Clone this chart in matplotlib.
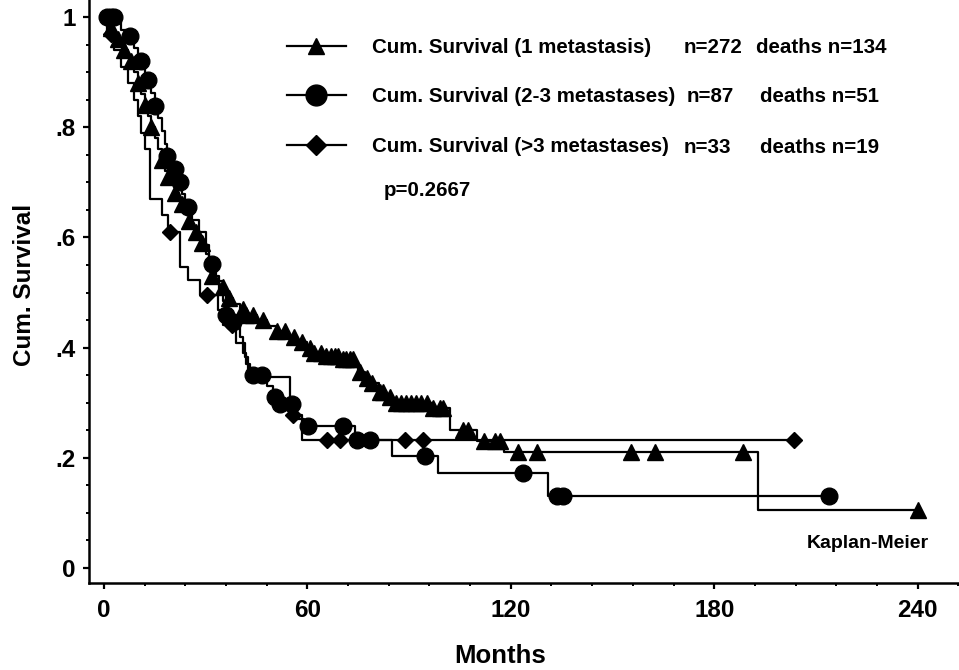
import matplotlib
matplotlib.use('Agg')
import matplotlib.pyplot as plt
from matplotlib.lines import Line2D
import numpy as np

plt.rcParams['font.family'] = ['Liberation Sans', 'DejaVu Sans']
plt.rcParams['font.weight'] = 'bold'

# --- data (months, cumulative survival) ---
# group 1: 1 metastasis (triangles)
g1_t = [0, 1, 2, 3, 4, 5, 6, 7, 8, 9, 10, 11, 12, 13, 14, 15, 16, 17, 18, 19, 20,
        21, 22, 23, 24, 25, 26, 27, 28, 29, 30, 31, 32, 33, 35, 36, 38, 40, 42, 45,
        48, 51, 54, 57, 60, 62, 65, 70, 74, 75, 77, 79, 81, 83, 85, 97, 102, 110,
        118, 193]
g1_s = [1.0, .99, .98, .97, .96, .95, .94, .93, .92, .90, .88, .86, .84, .82, .80,
        .78, .76, .74, .72, .71, .70, .68, .67, .66, .65, .63, .62, .61, .60, .59,
        .57, .55, .53, .52, .51, .49, .48, .47, .46, .45, .44, .43, .42, .41, .40,
        .39, .385, .38, .37, .355, .345, .335, .32, .31, .30, .29, .25, .23, .21,
        .105]
g1_cens = [2, 4, 6, 8, 10, 12, 14, 17, 19, 21, 23, 25, 27, 29, 32, 35, 37, 41, 42,
           44, 47, 51, 53.4, 56, 58.4, 60.8, 62, 64, 65.5, 67, 68, 69, 70.5, 71.5,
           72.6, 73.5, 75.5, 77.6, 79, 81.4, 82.3, 84.4, 86, 87.5, 89, 90.5, 92,
           93.5, 95.3, 97, 99, 100, 106, 107.4, 112, 115.3, 116.8, 122, 127.7,
           155.5, 162.5, 188.5, 240]

# group 2: 2-3 metastases (circles)
g2_t = [0, 5, 7, 9, 10, 11, 12, 13, 14, 15, 16, 17, 18, 18.5, 20, 21, 22, 23, 24,
        26, 28, 30, 31, 32, 33, 34, 35, 36, 37.5, 40, 41, 42, 43, 48, 50, 51.5,
        55.6, 57, 59, 74, 85, 98.5, 131]
g2_s = [1.0, .977, .966, .943, .931, .92, .897, .885, .862, .839, .816, .793, .77,
        .747, .735, .724, .70, .678, .655, .632, .61, .587, .563, .552, .53, .507,
        .484, .46, .447, .42, .39, .37, .35, .33, .31, .298, .285, .27, .258, .233,
        .203, .173, .13]
g2_cens = [1, 2, 3, 7.7, 11, 13, 15, 18.6, 21, 22.4, 24.8, 32, 36, 38, 44, 46.6,
           50.4, 52, 55.5, 60.2, 70.5, 74.6, 78.5, 94.7, 123.6, 133.6, 135.4, 214]

# group 3: >3 metastases (diamonds)
g3_t = [0, 1, 3, 5, 7, 9, 10, 11, 12, 13.6, 17, 19, 22.4, 24.8, 28.3, 33.6, 35, 39,
        41.6, 42.5, 55, 58.5]
g3_s = [1.0, .97, .94, .91, .88, .85, .82, .79, .76, .67, .64, .61, .546, .523,
        .495, .468, .441, .408, .383, .347, .278, .232]
g3_cens = [2, 19.5, 30.4, 37.8, 55.8, 65.8, 69.6, 88.8, 94, 203.5]

labels = ['Cum. Survival (1 metastasis)',
          'Cum. Survival (2-3 metastases)',
          'Cum. Survival (>3 metastases)']
n_text = ['n=272', 'n=87', 'n=33']
deaths_text = ['deaths n=134', 'deaths n=51', 'deaths n=19']
p_text = 'p=0.2667'

# marker, size on the curve, size in the legend
groups = [(g1_t, g1_s, g1_cens, '^', 11, 12),
          (g2_t, g2_s, g2_cens, 'o', 12, 15),
          (g3_t, g3_s, g3_cens, 'D', 8.5, 10)]

fig = plt.figure(figsize=(9.59, 6.70), dpi=100)
ax = fig.add_axes([89 / 959, 87 / 670, 870 / 959, 583 / 670])

for t, s, cens, mk, ms, _ in groups:
    t = np.array(t, dtype=float)
    s = np.array(s, dtype=float)
    cens = np.array(cens, dtype=float)
    # extend the last step to the last follow-up time
    tt = np.append(t, cens.max())
    ss = np.append(s, s[-1])
    ax.step(tt, ss, where='post', color='black', linewidth=1.6, zorder=2)
    idx = np.searchsorted(t, cens, side='right') - 1
    ax.plot(cens, s[idx], linestyle='none', marker=mk, markersize=ms,
            color='black', zorder=3)

fs = 14.8
# legend
handles = [Line2D([], [], color='black', linewidth=1.6, marker=g[3], markersize=g[5])
           for g in groups]
leg = ax.legend(handles, labels, loc='upper left', bbox_to_anchor=(287 / 959, 1 - 38 / 670),
                bbox_transform=fig.transFigure, frameon=False, fontsize=fs,
                handlelength=2.85, handletextpad=1.3, labelspacing=1.48,
                borderpad=0, borderaxespad=0)
for txt in leg.get_texts():
    txt.set_fontweight('bold')

row_y = [.944, .855, .764]
n_x = [171.1, 172.0, 171.1]
d_x = [192.3, 193.5, 193.5]
for i in range(3):
    ax.text(n_x[i], row_y[i], n_text[i], fontsize=fs, fontweight='bold', va='center')
    ax.text(d_x[i], row_y[i], deaths_text[i], fontsize=fs, fontweight='bold', va='center')
ax.text(82.5, .686, p_text, fontsize=fs, fontweight='bold', va='center')
ax.text(225.4, .045, 'Kaplan-Meier', fontsize=14, fontweight='bold', ha='center', va='center')

ax.set_xlim(-4.42, 252.2)
ax.set_ylim(-0.0272, 1.0309)
ax.set_xticks([0, 60, 120, 180, 240])
ax.set_xticks(np.arange(0, 253, 12), minor=True)
ax.set_yticks([0, .2, .4, .6, .8, 1])
ax.set_yticklabels(['0', '.2', '.4', '.6', '.8', '1'])
ax.set_yticks(np.arange(0, 1.01, .05), minor=True)
ax.tick_params(which='major', length=4.5, width=1.6, labelsize=17.5, pad=7)
ax.tick_params(which='minor', length=2.5, width=1.4)
ax.tick_params(axis='y', pad=5)
for lab in ax.get_xticklabels() + ax.get_yticklabels():
    lab.set_fontweight('bold')

ax.spines['top'].set_visible(False)
ax.spines['right'].set_visible(False)
ax.spines['left'].set_linewidth(1.8)
ax.spines['bottom'].set_linewidth(1.8)

ax.set_xlabel('Months', fontsize=18.5, fontweight='bold')
ax.set_ylabel('Cum. Survival', fontsize=17.5, fontweight='bold')
ax.xaxis.set_label_coords(0.472, -0.105)
ax.yaxis.set_label_coords(-0.061, 0.511)

fig.savefig('out.png', dpi=100)
